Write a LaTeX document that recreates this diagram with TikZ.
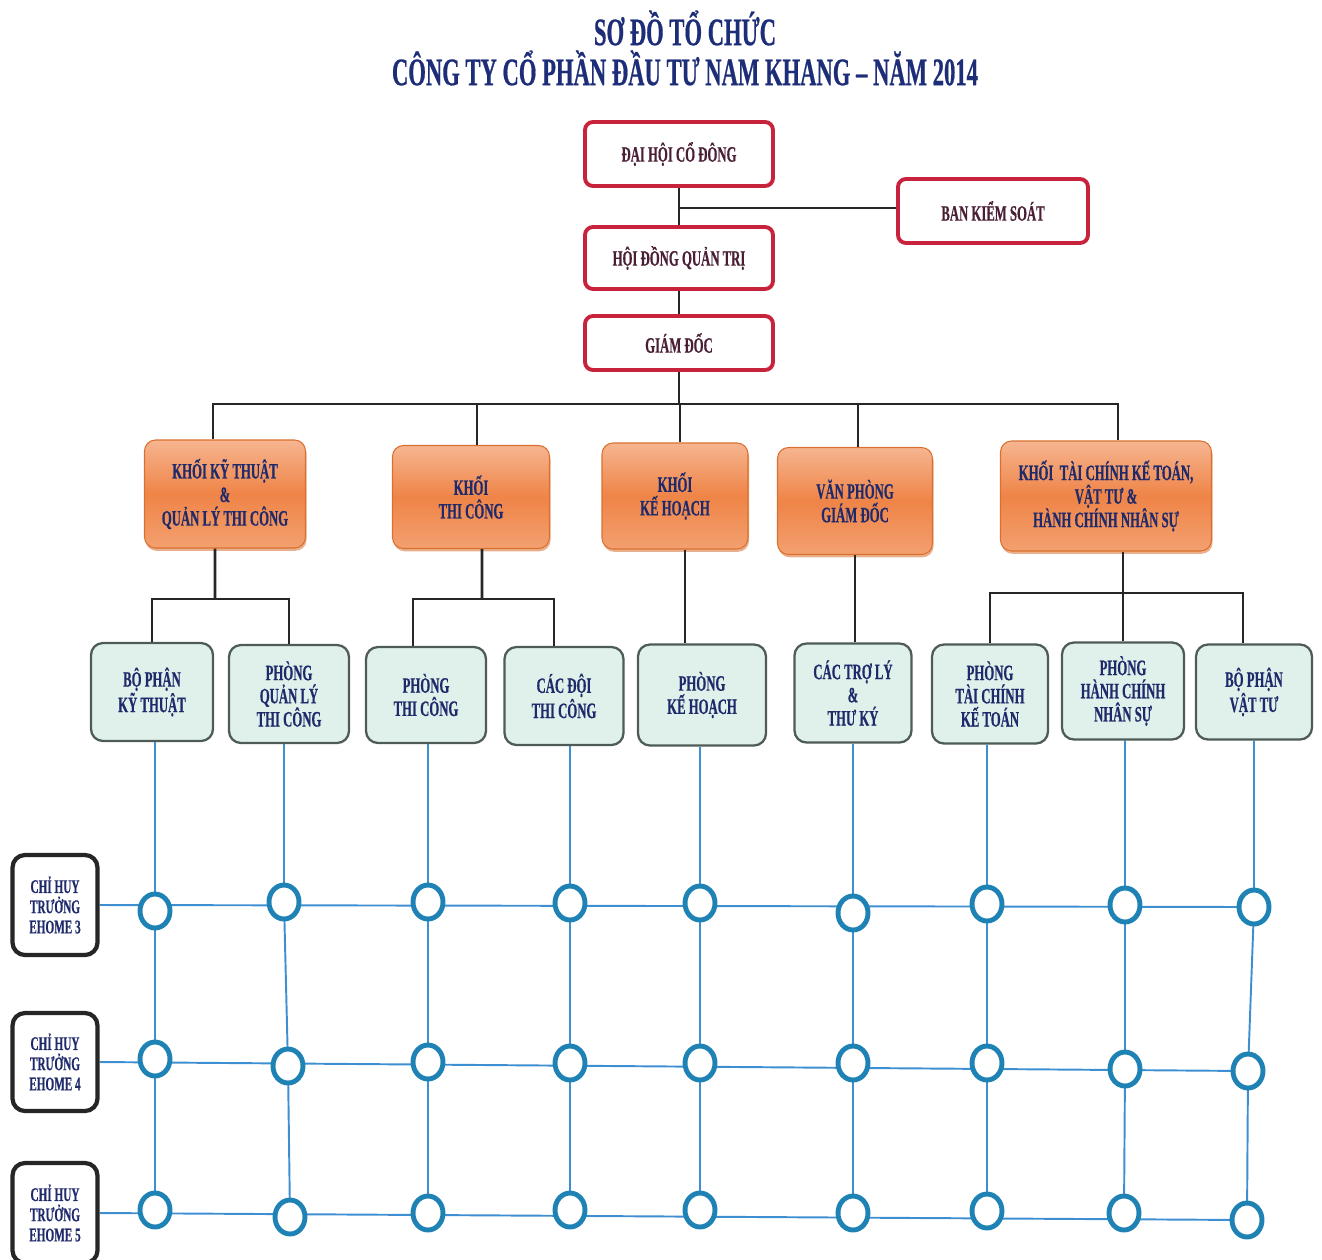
\documentclass[tikz,border=0pt]{standalone}
\usepackage{fontspec}
\setmainfont{Liberation Serif}
\newfontfamily\cond[FakeStretch=0.58,BoldFeatures={FakeBold=0.5}]{Liberation Serif}
\usetikzlibrary{shapes.geometric,shadows}
\pgfdeclarelayer{bg}
\pgfsetlayers{bg,main}
\definecolor{navy}{HTML}{1F2A6B}
\definecolor{titleblue}{HTML}{1D2D78}
\definecolor{maroon}{HTML}{4A1F35}
\definecolor{redb}{HTML}{C8233C}
\definecolor{orL}{HTML}{F6B590}
\definecolor{orM}{HTML}{EF8447}
\definecolor{orL2}{HTML}{F3A070}
\definecolor{orD}{HTML}{D9702F}
\definecolor{grF}{HTML}{DFF1EA}
\definecolor{grB}{HTML}{4F5B57}
\definecolor{blueL}{HTML}{3D8FD2}
\definecolor{circB}{HTML}{1F82B5}
\begin{document}
\begin{tikzpicture}[x=0.02cm,y=-0.02cm,
  sz/.style 2 args={minimum width=#1*0.02cm, minimum height=#2*0.02cm},
  titletext/.style={text=titleblue, font=\cond\bfseries\fontsize{22.2}{24}\selectfont, inner sep=0pt},
  redbox/.style={draw=redb, line width=2.2pt, rounded corners=0.16cm, fill=white, text=maroon,
    font=\cond\bfseries\fontsize{12.5}{13.5}\selectfont, align=center, inner sep=0pt},
  orbox/.style={draw=orD, line width=0.6pt, rounded corners=0.22cm, top color=orL, bottom color=orL2,
    middle color=orM, text=navy, font=\cond\bfseries\fontsize{12.5}{13.4}\selectfont, align=center, inner sep=0pt,
    drop shadow={shadow xshift=0.6pt, shadow yshift=-1.6pt, fill=orD, opacity=0.55}},
  grbox/.style={draw=grB, line width=1.3pt, rounded corners=0.24cm, fill=grF, text=navy,
    font=\cond\bfseries\fontsize{12.5}{13.2}\selectfont, align=center, inner sep=0pt},
  ehbox/.style={draw=black!85, line width=2.4pt, rounded corners=0.25cm, fill=white, text=navy,
    font=\cond\bfseries\fontsize{11}{11.5}\selectfont, align=center, inner sep=0pt},
  circ/.style={ellipse, draw=circB, line width=2.8pt, fill=white, minimum width=0.6cm, minimum height=0.68cm, inner sep=0pt},
  conn/.style={draw=black!85, line width=1.6pt},
  bl/.style={draw=blueL, line width=1.1pt}]
\useasboundingbox (0,0) rectangle (1322,1259);

% Title
\node[titletext] (t1) at (685,28) {SƠ ĐỒ TỔ CHỨC};
\node[titletext] (t2) at (685,68) {CÔNG TY CỔ PHẦN ĐẦU TƯ NAM KHANG – NĂM 2014};

% Top boxes
\node[redbox, sz={188}{64}] (dh) at (679,154) {ĐẠI HỘI CỔ ĐÔNG};
\node[redbox, sz={190}{64}] (bks) at (993,211) {BAN KIỂM SOÁT};
\node[redbox, sz={188}{62}] (hd) at (679,258) {HỘI ĐỒNG QUẢN TRỊ};
\node[redbox, sz={188}{54}] (gd) at (679,343) {GIÁM ĐỐC};

\coordinate (jk) at (679,208);
\draw[conn] (dh) -- (hd);
\draw[conn] (jk) -- (bks.west |- jk);
\draw[conn] (hd) -- (gd);

% Orange boxes
\node[orbox, sz={161}{108}] (k1) at (225,494) {KHỐI KỸ THUẬT\\\&\\QUẢN LÝ THI CÔNG};
\node[orbox, sz={157}{103}] (k2) at (471,497) {KHỐI\\THI CÔNG};
\node[orbox, sz={146}{106}] (k3) at (675,496) {KHỐI\\KẾ HOẠCH};
\node[orbox, sz={155}{107}] (k4) at (855,501) {VĂN PHÒNG\\GIÁM ĐỐC};
\node[orbox, sz={211}{110}] (k5) at (1106,496) {KHỐI\ \ TÀI CHÍNH KẾ TOÁN,\\VẬT TƯ \&\\HÀNH CHÍNH NHÂN SỰ};

\coordinate (bus) at (679,404);
\draw[conn] (gd) -- (bus);
\draw[conn] ([xshift=-0.24cm]k1.north) |- (bus) -| ([xshift=0.24cm]k5.north);
\draw[conn] ([xshift=0.12cm]k2.north) -- ([xshift=0.12cm]k2.north |- bus);
\draw[conn] ([xshift=0.1cm]k3.north) -- ([xshift=0.1cm]k3.north |- bus);
\draw[conn] ([xshift=0.06cm]k4.north) -- ([xshift=0.06cm]k4.north |- bus);

% Green boxes
\node[grbox, sz={122}{98}] (g1) at (152,692) {BỘ PHẬN\\KỸ THUẬT};
\node[grbox, sz={120}{98}] (g2) at (289,694) {PHÒNG\\QUẢN LÝ\\THI CÔNG};
\node[grbox, sz={120}{96}] (g3) at (426,695) {PHÒNG\\THI CÔNG};
\node[grbox, sz={119}{98}] (g4) at (564,696) {CÁC ĐỘI\\THI CÔNG};
\node[grbox, sz={128}{101}] (g5) at (702,695) {PHÒNG\\KẾ HOẠCH};
\node[grbox, sz={117}{99}] (g6) at (853,693) {CÁC TRỢ LÝ\\\&\\THƯ KÝ};
\node[grbox, sz={116}{99}] (g7) at (990,694) {PHÒNG\\TÀI CHÍNH\\KẾ TOÁN};
\node[grbox, sz={122}{97}] (g8) at (1123,691) {PHÒNG\\HÀNH CHÍNH\\NHÂN SỰ};
\node[grbox, sz={116}{95}] (g9) at (1254,692) {BỘ PHẬN\\VẬT TƯ};

\coordinate (j1) at (215,599);
\coordinate (j2) at (482,599);
\coordinate (j5) at (1124,593);
\draw[conn] ([xshift=-0.2cm]k1.south) -- (j1);
\draw[conn] (g1.north) |- (j1) -| (g2.north);
\draw[conn] ([xshift=0.22cm]k2.south) -- (j2);
\draw[conn] ([xshift=-0.26cm]g3.north) |- (j2) -| ([xshift=-0.2cm]g4.north);
\draw[conn] ([xshift=0.2cm]k3.south) -- ([xshift=0.2cm]k3.south |- g5.north);
\draw[conn] (k4.south) -- (k4.south |- g6.north);
\draw[conn] (g8.north) -- (g8.north |- k5.south);
\draw[conn] (g7.north) |- (j5) -| ([xshift=-0.22cm]g9.north);

% Left boxes
\node[ehbox, sz={85}{100}] (e3) at (55,905) {CHỈ HUY\\TRƯỞNG\\EHOME 3};
\node[ehbox, sz={85}{98}] (e4) at (55,1062) {CHỈ HUY\\TRƯỞNG\\EHOME 4};
\node[ehbox, sz={85}{100}] (e5) at (55,1213) {CHỈ HUY\\TRƯỞNG\\EHOME 5};

% Circles
\foreach \c/\xa/\ya/\xb/\yb/\xc/\yc in {
  1/155/911/155/1059/155/1210,
  2/284/902/288/1066/290/1217,
  3/428/902/428/1062/428/1213,
  4/570/903/570/1063/570/1210,
  5/700/903/700/1063/700/1210,
  6/853/913/853/1063/853/1213,
  7/987/904/987/1063/987/1211,
  8/1125/905/1125/1069/1124/1213,
  9/1254/907/1248/1071/1247/1220}{
  \node[circ] (c\c-1) at (\xa,\ya) {};
  \node[circ] (c\c-2) at (\xb,\yb) {};
  \node[circ] (c\c-3) at (\xc,\yc) {};
}

\begin{pgfonlayer}{bg}
\foreach \i in {1,...,9}{
  \draw[bl] (g\i.south -| c\i-1) -- (c\i-1.center) -- (c\i-2.center) -- (c\i-3.center);
}
\draw[bl] (e3.east) -- (c9-1.center);
\draw[bl] (e4.east) -- (c9-2.center);
\draw[bl] (e5.east) -- (c9-3.center);
\end{pgfonlayer}
\end{tikzpicture}
\end{document}
